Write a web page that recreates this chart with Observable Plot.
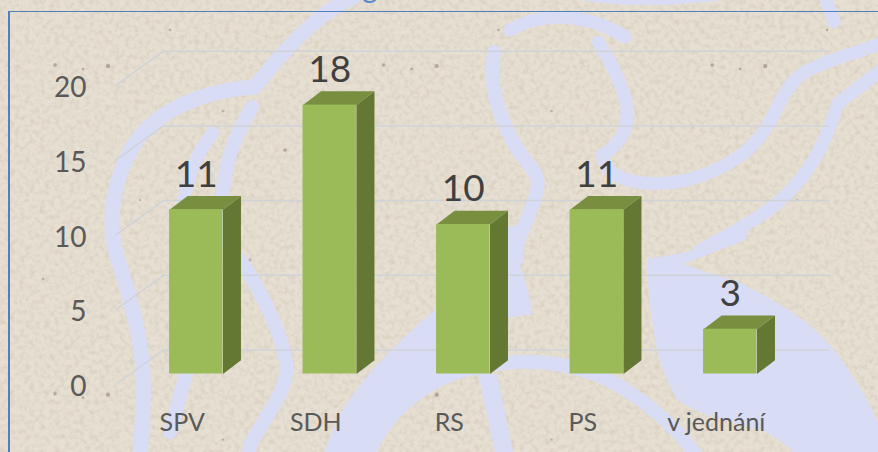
<!DOCTYPE html>
<html lang="cs">
<head>
<meta charset="utf-8">
<script src="https://cdn.jsdelivr.net/npm/d3@7"></script>
<script src="https://cdn.jsdelivr.net/npm/@observablehq/plot@0.6"></script>
<style>
html,body{margin:0;padding:0;background:#e3dccf;}
#wrap{position:relative;width:878px;height:452px;overflow:hidden;}
#decor{position:absolute;left:0;top:0;}
#frame{position:absolute;left:8px;top:11px;right:-5px;bottom:-5px;border-left:2px solid #4f81bd;border-top:1px solid #4f81bd;}
#title{position:absolute;left:362px;top:-28.6px;font:30px/30px Lato,sans-serif;color:#5b8bc9;}
#chart{position:absolute;left:0;top:0;}
#chart svg{background:transparent;display:block;}
</style>
</head>
<body>
<div id="wrap">
<svg id="decor" width="878" height="452" viewBox="0 0 878 452" aria-hidden="true">
  <defs>
    <filter id="grain" x="0" y="0" width="100%" height="100%">
      <feTurbulence type="fractalNoise" baseFrequency="0.2" numOctaves="4" seed="7"/>
      <feColorMatrix type="matrix" values="0 0 0 0 0.55  0 0 0 0 0.48  0 0 0 0 0.38  0.9 0 0 0 -0.38"/>
    </filter>
    <pattern id="spots" width="328.6" height="328.6" patternUnits="userSpaceOnUse">
      <g fill="#8d8373" opacity=".6">
        <circle cx="55" cy="65" r="1.8"/><circle cx="108" cy="66" r="2.2"/><circle cx="83" cy="69" r="1.4"/>
        <circle cx="223" cy="111" r="1.2"/><circle cx="285" cy="150" r="1.8"/><circle cx="170" cy="30" r="1.2"/>
        <circle cx="43" cy="279" r="1.3"/><circle cx="140" cy="200" r="1.1"/><circle cx="250" cy="260" r="1.3"/>
      </g>
    </pattern>
  </defs>
  <rect width="878" height="452" fill="#e6dfd2"/>
  <rect width="878" height="452" filter="url(#grain)"/>
  <rect width="878" height="452" fill="url(#spots)"/>
  <g fill="none" stroke="#d9dcf5" stroke-linecap="round" stroke-linejoin="round">
    <path stroke-width="15" d="M355 -4C320 12 290 42 255 87C205 90 150 110 128 155C108 195 108 235 121 269C132 305 146 350 143 405L140 460"/>
    <path stroke-width="13" d="M213 133C198 150 188 175 183 205"/>
    <path stroke-width="14" d="M187 370L170 432"/>
    <path stroke-width="14" d="M252 107C232 140 222 170 222 210L225 240C250 270 278 320 286 362C290 390 262 420 250 445L248 460"/>
    <path stroke-width="14" d="M494 52C488 85 498 112 512 140C525 165 541 170 537 190C532 215 515 235 516 260"/>
    <path stroke-width="13" d="M510 30C530 18 575 6 625 37"/>
    <path stroke-width="13" d="M598 42C625 85 645 130 602 155"/>
    <path stroke-width="13" d="M604 162C615 190 690 195 745 152C780 122 775 92 805 72C825 60 860 52 885 42"/>
    <path stroke-width="13" d="M885 67L838 103C825 145 810 175 775 205C755 220 735 232 700 250"/>
    <path stroke-width="13" d="M825 -4L834 22"/>
    <path stroke-width="14" d="M490 365C530 358 565 362 600 376C640 395 675 425 700 460" stroke-linecap="butt"/>
  </g>
  <g fill="#d9dcf5">
    <path d="M580 0Q640 10 722 0Z"/>
    <path d="M325 452C335 410 370 365 437 308L490 300L490 374L480 374C440 380 395 410 377 452Z"/>
    <path d="M478 374L497 374L513 452L495 452Z"/>
    <path d="M506 226L523 226C515 240 515 250 519 262C525 280 531 298 532 314L506 318Z"/>
    <path d="M648 259L683 253L733 236L750 226L745 240L683 264C705 272 720 276 740 283C765 295 785 307 807 323C825 338 840 355 850 373C862 390 872 408 878 423L878 452L793 452C785 444 775 436 760 430C745 425 700 418 677 399C668 385 660 365 655 340C651 315 647 285 648 259Z"/>
  </g>
</svg>
<div id="frame"></div>
<div id="title">g</div>
<div id="chart"></div>
</div>
<script>
const categories = ["SPV", "SDH", "RS", "PS", "v jednání"];
const values = [11, 18, 10, 11, 3];
const yTicks = [0, 5, 10, 15, 20];

const slots = categories.map((c, i) => i + 0.5);
const halfWidth = 0.2;
const depthX = 0.135, depthY = 0.92;
const bars = categories.map((c, i) => ({c, v: values[i], x: slots[i]}));

const topFace = bars.flatMap(b => [
  {id: b.c, x: b.x - halfWidth, y: b.v},
  {id: b.c, x: b.x + halfWidth, y: b.v},
  {id: b.c, x: b.x + halfWidth + depthX, y: b.v + depthY},
  {id: b.c, x: b.x - halfWidth + depthX, y: b.v + depthY}
]);
const sideFace = bars.flatMap(b => [
  {id: b.c, x: b.x + halfWidth, y: 0},
  {id: b.c, x: b.x + halfWidth, y: b.v},
  {id: b.c, x: b.x + halfWidth + depthX, y: b.v + depthY},
  {id: b.c, x: b.x + halfWidth + depthX, y: depthY}
]);

const chart = Plot.plot({
  width: 878,
  height: 452,
  marginLeft: 86,
  marginBottom: 39,
  marginTop: 0,
  marginRight: 0,
  style: {background: "transparent", fontFamily: "Lato, sans-serif", overflow: "visible"},
  x: {type: "linear", domain: [0, 5], range: [129, 796.5]},
  y: {type: "linear", domain: [0, 20], range: [373.5, 74.7]},
  marks: [
    Plot.ruleY(yTicks, {y: d => d + 1.606, x1: 0.255, x2: 5.245, stroke: "#cfd3d8", strokeWidth: 1.5}),
    Plot.link(yTicks, {x1: -0.105, y1: d => d - 0.703, x2: 0.255, y2: d => d + 1.606, stroke: "#cfd3d8", strokeWidth: 1.5}),
    Plot.line(sideFace, {x: "x", y: "y", z: "id", fill: "#647834", stroke: null, curve: "linear"}),
    Plot.line(topFace, {x: "x", y: "y", z: "id", fill: "#778f3f", stroke: null, curve: "linear"}),
    Plot.rectY(bars, {x1: d => d.x - halfWidth, x2: d => d.x + halfWidth, y1: 0, y2: "v", fill: "#9bbb59"}),
    Plot.text(bars, {x: "x", y: "v", text: d => String(d.v), dy: -35, fontSize: 37, fill: "#404040"}),
    Plot.axisY({ticks: yTicks, tickSize: 0, tickPadding: 0, dy: 13, fontSize: 28, color: "#595959", label: null, tickFormat: d => String(d)}),
    Plot.axisX({ticks: slots, tickSize: 0, tickPadding: 0, dx: -14, fontSize: 25, color: "#595959", label: null, tickFormat: d => categories[slots.indexOf(d)]})
  ]
});
document.getElementById("chart").appendChild(chart);
</script>
</body>
</html>
